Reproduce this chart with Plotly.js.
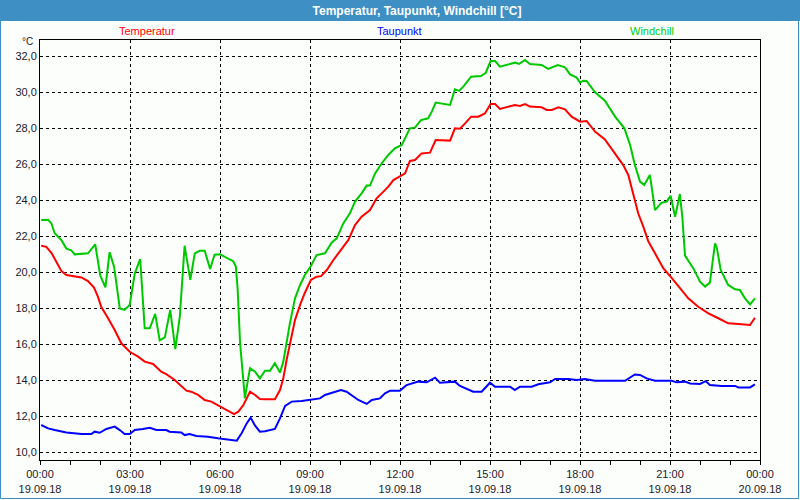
<!DOCTYPE html>
<html>
<head>
<meta charset="utf-8">
<script src="https://cdn.plot.ly/plotly-3.0.1.min.js"></script>
<style>
html,body{margin:0;padding:0;background:#fcfefc;}
#chart{width:800px;height:500px;}
</style>
</head>
<body>
<div id="chart"></div>
<script>
// Hours since 19.09.18 00:00
const tempHours = [0.04,0.21,0.38,0.54,0.71,0.88,1.16,1.38,1.6,1.8,1.93,2.04,2.27,2.49,2.71,2.99,3.27,3.49,3.77,4.04,4.21,4.49,4.88,5.04,5.27,5.49,5.71,6.04,6.28,6.47,6.61,6.78,6.89,7.0,7.17,7.33,7.5,7.83,8.0,8.11,8.22,8.37,8.5,8.67,8.83,9.03,9.22,9.37,9.56,9.78,10.0,10.28,10.5,10.72,11.0,11.22,11.39,11.61,11.78,12.0,12.17,12.33,12.5,12.72,13.0,13.19,13.44,13.67,13.83,14.0,14.17,14.37,14.61,14.83,15.02,15.17,15.33,15.56,15.83,16.0,16.17,16.33,16.72,16.89,17.06,17.28,17.5,17.72,18.0,18.22,18.5,18.83,19.17,19.44,19.61,19.78,19.94,20.11,20.28,20.5,20.78,21.02,21.28,21.61,21.94,22.28,22.61,22.94,23.28,23.67,23.83];
const tempValues = [21.46,21.4,21.07,20.57,20.06,19.83,19.78,19.7,19.5,19.13,18.63,18.07,17.43,16.78,16.04,15.57,15.3,15.02,14.89,14.46,14.33,14.0,13.41,13.35,13.17,12.89,12.8,12.52,12.28,12.11,12.24,12.61,12.98,13.35,13.17,12.94,12.93,12.93,13.44,14.09,15.11,16.22,17.33,18.17,18.85,19.56,19.74,19.77,20.11,20.67,21.13,21.78,22.61,23.07,23.44,24.09,24.37,24.74,25.11,25.3,25.48,26.17,26.22,26.59,26.63,27.33,27.33,27.3,27.98,27.96,28.26,28.63,28.63,28.81,29.33,29.33,29.06,29.15,29.28,29.22,29.33,29.19,29.15,29.0,29.0,29.15,29.04,28.63,28.35,28.39,27.8,27.37,26.59,25.94,25.39,24.28,23.26,22.52,21.69,21.04,20.2,19.74,19.19,18.54,18.07,17.7,17.43,17.15,17.11,17.06,17.46];

const dewHours = [0.04,0.27,0.49,0.88,1.38,1.71,1.82,1.99,2.21,2.49,2.66,2.82,2.99,3.16,3.43,3.66,3.88,4.21,4.32,4.71,4.82,4.99,5.21,5.6,5.93,6.17,6.56,6.72,6.89,7.02,7.17,7.33,7.5,7.83,8.0,8.17,8.39,8.72,9.0,9.33,9.5,9.78,10.03,10.22,10.39,10.61,10.89,11.06,11.33,11.5,11.67,12.0,12.22,12.39,12.61,12.89,13.0,13.17,13.33,13.67,13.83,14.0,14.28,14.44,14.72,14.86,15.0,15.17,15.67,15.83,16.0,16.39,16.61,17.0,17.17,17.61,17.89,18.17,18.5,19.5,19.67,19.83,20.0,20.22,20.5,21.06,21.22,21.5,21.67,22.0,22.19,22.33,22.72,23.17,23.28,23.67,23.83];
const dewValues = [11.5,11.31,11.22,11.09,11.0,11.0,11.13,11.07,11.28,11.41,11.22,11.0,11.0,11.22,11.28,11.35,11.22,11.22,11.13,11.09,10.94,11.0,10.89,10.85,10.76,10.7,10.63,11.04,11.59,11.91,11.46,11.13,11.15,11.28,11.87,12.56,12.8,12.83,12.89,12.98,13.17,13.3,13.44,13.35,13.17,12.89,12.67,12.89,12.98,13.26,13.41,13.41,13.72,13.81,13.91,13.87,13.96,14.13,13.85,13.91,13.91,13.67,13.48,13.35,13.35,13.63,13.85,13.63,13.63,13.44,13.63,13.63,13.76,13.87,14.06,14.06,14.0,14.06,13.96,13.96,14.15,14.31,14.28,14.09,13.96,13.96,13.87,13.91,13.81,13.78,13.94,13.72,13.67,13.67,13.59,13.59,13.76];

const chillHours = [0.04,0.27,0.38,0.49,0.71,0.88,1.04,1.16,1.6,1.84,2.01,2.18,2.32,2.47,2.66,2.82,2.99,3.16,3.34,3.49,3.66,3.84,3.99,4.16,4.34,4.51,4.66,4.82,5.01,5.16,5.32,5.49,5.67,5.82,6.0,6.28,6.44,6.53,6.59,6.67,6.74,6.83,6.91,7.0,7.17,7.33,7.5,7.67,7.83,8.0,8.11,8.22,8.33,8.5,8.67,8.83,9.03,9.22,9.5,9.72,9.89,10.11,10.33,10.5,10.72,10.89,11.0,11.17,11.39,11.61,11.83,12.06,12.17,12.33,12.5,12.7,12.94,13.06,13.19,13.39,13.67,13.83,13.97,14.11,14.37,14.7,14.86,15.02,15.17,15.33,15.56,15.83,15.97,16.17,16.33,16.72,16.94,17.26,17.5,17.67,17.89,18.0,18.11,18.22,18.5,18.83,19.17,19.48,19.67,19.83,20.0,20.14,20.33,20.41,20.5,20.72,20.89,21.02,21.17,21.33,21.41,21.5,21.78,22.0,22.17,22.33,22.5,22.56,22.69,22.94,23.17,23.33,23.5,23.67,23.83];
const chillValues = [22.89,22.9,22.7,22.15,21.78,21.3,21.2,20.98,21.04,21.54,19.8,19.15,21.1,20.3,17.98,17.9,18.17,19.93,20.72,16.87,16.87,17.67,16.2,16.37,17.89,15.72,17.5,21.46,19.56,21.04,21.18,21.18,20.17,20.96,20.98,20.76,20.6,20.3,19.0,16.04,14.74,12.98,13.8,14.65,14.46,14.09,14.52,14.52,14.93,14.41,15.02,16.22,17.15,18.54,19.28,19.83,20.33,20.94,21.04,21.63,21.87,22.7,23.26,23.91,24.37,24.8,24.8,25.48,26.04,26.5,26.87,27.06,27.43,27.98,28.02,28.44,28.54,28.91,29.41,29.37,29.28,30.15,30.06,30.3,30.85,30.89,31.07,31.72,31.72,31.41,31.5,31.63,31.56,31.78,31.56,31.5,31.28,31.5,31.37,30.98,30.8,30.52,30.63,30.61,29.98,29.52,28.63,27.98,27.06,25.94,25.02,24.83,25.39,24.56,23.44,23.85,23.91,24.24,23.07,24.33,23.07,20.91,20.2,19.46,19.19,19.41,21.59,21.35,20.11,19.28,19.04,19.0,18.54,18.2,18.54];

const seriesNames = ['Temperatur','Taupunkt','Windchill'];
const xTickHours = [0,3,6,9,12,15,18,21,24];
const xTickTimes = ['00:00','03:00','06:00','09:00','12:00','15:00','18:00','21:00','00:00'];
const xTickDates = ['19.09.18','19.09.18','19.09.18','19.09.18','19.09.18','19.09.18','19.09.18','19.09.18','20.09.18'];
const chartTitle = 'Temperatur, Taupunkt, Windchill [°C]';
const unitLabel = '°C';

const colors = ['#ff0000','#0000ff','#00c800'];
const legendColors = ['#ff0000','#0000ff','#00cc00'];
const FONT = '"Liberation Sans", Arial, sans-serif';
const BAR = '#3d8fc4';

const W = 800, H = 500, L = 40, R = 40, T = 40, B = 40;
const pw = W - L - R, ph = H - T - B;
const px = x => (x - L) / pw;
const py = y => (H - B - y) / ph;

const traces = [
  {x: tempHours, y: tempValues, name: seriesNames[0]},
  {x: dewHours, y: dewValues, name: seriesNames[1]},
  {x: chillHours, y: chillValues, name: seriesNames[2]}
].map((t, i) => Object.assign(t, {
  type: 'scatter', mode: 'lines',
  line: {color: colors[i], width: 2, shape: 'linear'},
  hoverinfo: 'skip'
}));

const legendX = [147, 399, 652];
const annotations = seriesNames.map((n, i) => ({
  text: n, xref: 'paper', yref: 'paper', x: px(legendX[i]), y: py(31),
  xanchor: 'center', yanchor: 'middle', showarrow: false,
  font: {family: FONT, size: 11, color: legendColors[i]}
}));
annotations.push({
  text: unitLabel, xref: 'paper', yref: 'paper', x: px(35), y: py(49),
  xanchor: 'right', yanchor: 'bottom', showarrow: false,
  font: {family: FONT, size: 10, color: '#1a1a2e'}
});

const layout = {
  width: W, height: H,
  margin: {l: L, r: R, t: T, b: B, pad: 0},
  paper_bgcolor: '#fcfefc',
  plot_bgcolor: '#fcfefc',
  separators: ',.',
  showlegend: false,
  font: {family: FONT, size: 11, color: '#1a1a2e'},
  title: {
    text: chartTitle, xref: 'container', yref: 'container',
    x: 417 / W, y: 1 - 10.5 / H, xanchor: 'center', yanchor: 'middle',
    font: {family: FONT, size: 12, color: '#ffffff', weight: 'bold'}
  },
  xaxis: {
    range: [0, 24], fixedrange: true,
    tickmode: 'array', tickvals: xTickHours,
    ticktext: xTickTimes.map((t, i) => t + '<br>' + xTickDates[i]),
    ticks: 'outside', ticklen: 4, tickwidth: 1, tickcolor: '#000',
    minor: {tickmode: 'linear', tick0: 0, dtick: 1, ticks: 'outside', ticklen: 4, tickwidth: 1, tickcolor: '#000', showgrid: false},
    showgrid: true, gridcolor: '#000', gridwidth: 1, griddash: '3px,3px',
    showline: true, linecolor: '#000', linewidth: 1, mirror: true,
    zeroline: false,
    tickfont: {family: FONT, size: 11, color: '#1a1a2e'}
  },
  yaxis: {
    range: [9.556, 32.889], fixedrange: true,
    tickmode: 'linear', tick0: 10, dtick: 2, tickformat: '.1f',
    ticks: '', showgrid: true, gridcolor: '#000', gridwidth: 1, griddash: '3px,3px',
    showline: true, linecolor: '#000', linewidth: 1, mirror: true,
    zeroline: false,
    tickfont: {family: FONT, size: 11, color: '#1a1a2e'}
  },
  shapes: [
    {type: 'rect', xref: 'paper', yref: 'paper', x0: px(0), x1: px(800), y0: py(21), y1: py(0),
     fillcolor: BAR, line: {width: 0}, layer: 'above'},
    {type: 'rect', xref: 'paper', yref: 'paper', x0: px(0.5), x1: px(798.5), y0: py(498.5), y1: py(0.5),
     fillcolor: 'rgba(0,0,0,0)', line: {color: BAR, width: 1}, layer: 'above'}
  ],
  annotations: annotations
};

Plotly.newPlot('chart', traces, layout, {staticPlot: true, displayModeBar: false});
</script>
</body>
</html>
